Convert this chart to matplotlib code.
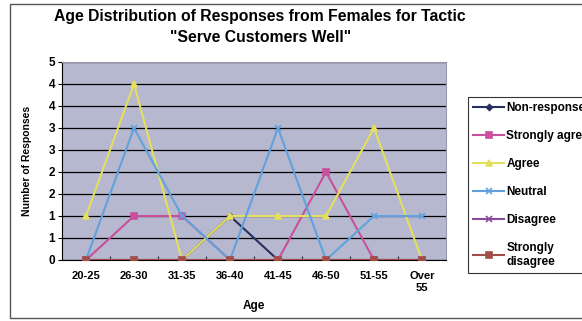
import math
import numpy as np
import matplotlib.pyplot as plt
from matplotlib.ticker import FuncFormatter, MultipleLocator
from matplotlib.patches import Rectangle

# Age groups and response counts per answer
ages = ["20-25", "26-30", "31-35", "36-40", "41-45", "46-50", "51-55", "Over\n55"]
non_response = [0, 0, 0, 1, 0, 0, 0, 0]
strongly_agree = [0, 1, 1, 0, 0, 2, 0, 0]
agree = [1, 4, 0, 1, 1, 1, 3, 0]
neutral = [0, 3, 1, 0, 3, 0, 1, 1]
disagree = [0, 0, 0, 0, 0, 0, 0, 0]
strongly_disagree = [0, 0, 0, 0, 0, 0, 0, 0]

series = [
    ("Non-response", non_response, "#27305e", "D", 3),
    ("Strongly agree", strongly_agree, "#c8509c", "s", 4),
    ("Agree", agree, "#e4df5c", "^", 4),
    ("Neutral", neutral, "#62a2dc", "x", 5),
    ("Disagree", disagree, "#8a4a9a", "x", 5),
    ("Strongly\ndisagree", strongly_disagree, "#a24e48", "s", 4),
]

plt.rcParams["font.family"] = ["Liberation Sans", "DejaVu Sans"]
plt.rcParams["font.weight"] = "bold"

fig = plt.figure(figsize=(5.82, 3.21), dpi=100)
ax = fig.add_axes([62 / 582, 1 - 260 / 321, 384 / 582, 198 / 321])

# outer chart frame (right edge runs off the picture)
fig.patches.append(Rectangle((10 / 582, 3 / 321), 900 / 582, 314 / 321,
                             transform=fig.transFigure, fill=False,
                             edgecolor="#555555", lw=1.0))

x = np.arange(len(ages))
handles = []
for name, vals, col, mk, ms in series:
    h, = ax.plot(x, vals, color=col, marker=mk, markersize=ms, lw=1.5,
                 markeredgewidth=1.2, label=name, zorder=3)
    handles.append(h)

ax.set_facecolor("#b6b8d0")
ax.set_xlim(-0.5, 7.5)
ax.set_ylim(0, 4.5)
ax.yaxis.set_major_locator(MultipleLocator(0.5))
ax.yaxis.set_major_formatter(FuncFormatter(lambda v, p: str(int(math.floor(v + 0.5)))))
ax.grid(axis="y", color="black", lw=0.9)
ax.set_axisbelow(True)
ax.set_xticks(x)
ax.set_xticklabels(ages, fontsize=8, fontweight="bold")
ax.set_xticks(np.arange(-0.5, 8, 1), minor=True)
ax.tick_params(axis="x", which="major", length=0, pad=8)
ax.tick_params(axis="x", which="minor", length=3, direction="in")
ax.tick_params(axis="y", labelsize=8.5, length=3, pad=2)
for s in ["top", "right"]:
    ax.spines[s].set_color("#9a9aaa")
ax.spines["left"].set_color("black")
ax.spines["bottom"].set_color("black")

ax.set_xlabel("Age", fontsize=8.5, fontweight="bold", labelpad=5)
ax.set_ylabel("Number of Responses", fontsize=7.5, fontweight="bold", labelpad=12)

fig.text(0.447, 1 - 17 / 321, "Age Distribution of Responses from Females for Tactic",
         ha="center", va="center", fontsize=11.3, fontweight="bold")
fig.text(0.447, 1 - 38 / 321, "\"Serve Customers Well\"",
         ha="center", va="center", fontsize=11.3, fontweight="bold")

# legend box runs past the right edge, as in the original layout
leg = fig.legend(handles=handles, loc="upper left",
                 bbox_to_anchor=(462 / 582, 1 - 91 / 321),
                 fontsize=8.5, frameon=True, fancybox=False,
                 edgecolor="black", handlelength=2.6, labelspacing=1.35,
                 borderpad=0.45, handletextpad=0.2)
leg.get_frame().set_linewidth(0.8)
for t in leg.get_texts():
    t.set_fontweight("bold")

fig.savefig("out.png", dpi=100)
